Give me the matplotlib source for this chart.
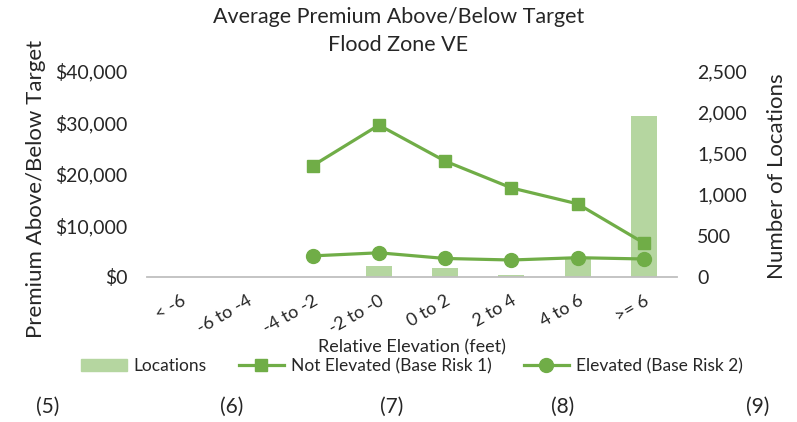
import numpy as np
import matplotlib.pyplot as plt

plt.rcParams['font.family'] = ['Lato', 'DejaVu Sans']

#%% data
categories = ['< -6', '-6 to -4', '-4 to -2', '-2 to -0', '0 to 2', '2 to 4', '4 to 6', '>= 6']
locations = [0, 0, 0, 137, 109, 25, 227, 1954]
not_elevated = [np.nan, np.nan, 21600, 29500, 22500, 17300, 14200, 6600]
elevated = [np.nan, np.nan, 4100, 4700, 3600, 3300, 3750, 3500]
footnotes = ['(5)', '(6)', '(7)', '(8)', '(9)']
footnote_x = [48, 232, 392, 563, 758]

green = '#70AD47'
bar_green = '#B5D6A0'
txt = '#262626'

#%% plot
fig = plt.figure(figsize=(7.97, 4.22), dpi=100)
ax = fig.add_axes([147/797, 1-277/422, (677-147)/797, (277-71)/422])
ax2 = ax.twinx()

x = np.arange(len(categories))
ax2.bar(x, locations, width=0.39, color=bar_green, zorder=1)
ax.plot(x, not_elevated, color=green, lw=2.3, marker='s', ms=8.5, label='Not Elevated (Base Risk 1)')
ax.plot(x, elevated, color=green, lw=2.3, marker='o', ms=10, label='Elevated (Base Risk 2)')

# lines above bars
ax.set_zorder(ax2.get_zorder() + 1)
ax.patch.set_visible(False)

ax.set_xlim(-0.5, len(categories) - 0.5)
ax.set_ylim(0, 40000)
ax2.set_ylim(0, 2500)
ax.set_yticks(np.arange(0, 40001, 10000))
ax.set_yticklabels([f'${v:,.0f}' for v in np.arange(0, 40001, 10000)])
ax2.set_yticks(np.arange(0, 2501, 500))
ax2.set_yticklabels([f'{v:,.0f}' for v in np.arange(0, 2501, 500)])

ax.set_xticks(x)
ax.set_xticklabels(categories, rotation=30, ha='right', rotation_mode='anchor')

for a in (ax, ax2):
    for s in a.spines.values():
        s.set_visible(False)
    a.tick_params(length=0, labelsize=14, colors=txt)
ax.spines['bottom'].set_visible(True)
ax.spines['bottom'].set_color('#BFBFBF')
ax.spines['bottom'].set_linewidth(1.3)
ax.tick_params(axis='x', pad=11, labelsize=13)
ax.tick_params(axis='y', pad=14)
ax2.tick_params(axis='y', pad=14.5)

# axis titles
fig.text(36/797, 1-189/422, 'Premium Above/Below Target', rotation=90, ha='center', va='center',
         fontsize=16, color=txt)
fig.text(777/797, 1-176/422, 'Number of Locations', rotation=90, ha='center', va='center',
         fontsize=16, color=txt)

fig.text(0.5, 1-17/422, 'Average Premium Above/Below Target', ha='center', va='center', fontsize=15.5, color=txt)
fig.text(0.5, 1-45/422, 'Flood Zone VE', ha='center', va='center', fontsize=15.5, color=txt)
fig.text(412/797, 1-347/422, 'Relative Elevation (feet)', ha='center', va='center', fontsize=13, color=txt)

bar_handle = plt.Rectangle((0, 0), 1, 1, color=bar_green)
h, l = ax.get_legend_handles_labels()
fig.legend([bar_handle] + h, ['Locations'] + l, loc='center', bbox_to_anchor=(412/797, 1-366/422),
           ncol=3, frameon=False, fontsize=12.5, handlelength=2.6, columnspacing=1.85, handletextpad=0.4,
           labelcolor=txt)

for fx, fn in zip(footnote_x, footnotes):
    fig.text(fx/797, 1-407/422, fn, ha='center', va='center', fontsize=15, color=txt)

fig.savefig('out.png', dpi=100)
